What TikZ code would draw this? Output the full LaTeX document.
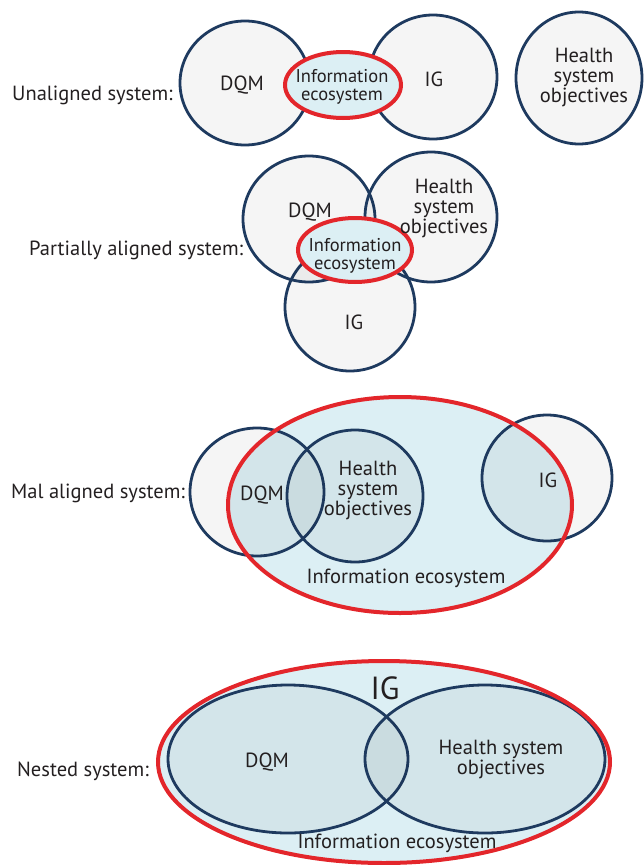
\documentclass[tikz,border=0pt]{standalone}
\usepackage{fontspec}
\setmainfont{PT Sans}
\usetikzlibrary{shapes.geometric}
\definecolor{setline}{HTML}{1E3A5F}
\definecolor{ecored}{HTML}{E3262B}
\definecolor{ecoblue}{HTML}{DCEFF4}
\definecolor{inktext}{HTML}{231F20}
\begin{document}
\begin{tikzpicture}[x=1pt, y=-1pt, text=inktext,
    font=\fontsize{20.5}{20}\selectfont,
    setdisc/.style={ellipse, draw=setline, line width=2.8pt, fill=black,
      fill opacity=0.04, text opacity=1, inner sep=0pt},
    ecodisc/.style={ellipse, draw=ecored, line width=4pt, fill=ecoblue, inner sep=0pt},
    ecofill/.style={ellipse, fill=ecoblue, inner sep=0pt},
    ecoring/.style={draw=ecored, line width=4pt},
    word/.style={align=center, inner sep=0pt},
    small/.style={word, font=\fontsize{18.5}{18}\selectfont},
    rowname/.style={anchor=west, inner sep=0pt}]
  \useasboundingbox (0,0) rectangle (643,865);

  % unaligned
  \node[rowname] (row1) at (12,95) {Unaligned system:};
  \node[setdisc, minimum width=130pt, minimum height=124pt] (dqm1) at (245,83) {};
  \node[setdisc, minimum width=128pt, minimum height=124pt] (ig1) at (433,77) {};
  \node[setdisc, minimum width=126pt, minimum height=132pt] (hso1) at (579,78) {};
  \node[ecodisc, minimum width=116pt, minimum height=66pt] (eco1) at (343,85) {};
  \node[word] (dqm1txt) at (242,85) {DQM};
  \node[word] (ig1txt) at (434,79) {IG};
  \node[word] (hso1txt) at (584,77) {Health\\system\\objectives};
  \node[small] (eco1txt) at (342,87) {Information\\ecosystem};

  % partially aligned
  \node[rowname] (row2) at (29,250) {Partially aligned system:};
  \node[setdisc, minimum width=130pt, minimum height=128pt] (ig2) at (350,307) {};
  \node[setdisc, minimum width=132pt, minimum height=126pt] (dqm2) at (309,219) {};
  \node[setdisc, minimum width=132pt, minimum height=130pt] (hso2) at (431,217) {};
  \node[ecodisc, minimum width=114pt, minimum height=64pt] (eco2) at (355,250) {};
  \node[word] (dqm2txt) at (310,212) {DQM};
  \node[word] (ig2txt) at (354,322) {IG};
  \node[word] (hso2txt) at (444,208) {Health\\system\\objectives};
  \node[small] (eco2txt) at (355,256) {Information\\ecosystem};

  % mal aligned
  \node[rowname] (row3) at (11,493) {Mal aligned system:};
  \node[ecofill, minimum width=344pt, minimum height=216pt] (eco3) at (400,505) {};
  \node[setdisc, minimum width=134pt, minimum height=128pt] (dqm3) at (257,492) {};
  \node[setdisc, minimum width=136pt, minimum height=132pt] (hso3) at (355,496) {};
  \node[setdisc, minimum width=130pt, minimum height=126pt] (ig3) at (547,478) {};
  \draw[ecoring] (eco3.center) ellipse [x radius=172pt, y radius=108pt];
  \node[word] (dqm3txt) at (262,495) {DQM};
  \node[word] (hso3txt) at (368,490) {Health\\system\\objectives};
  \node[word] (ig3txt) at (548,480) {IG};
  \node[word] (eco3txt) at (406,578) {Information ecosystem};

  % nested
  \node[rowname] (row4) at (17,771) {Nested system:};
  \node[ecofill, minimum width=452pt, minimum height=202pt] (eco4) at (384,762) {};
  \node[setdisc, minimum width=240pt, minimum height=148pt] (dqm4) at (288,759) {};
  \node[setdisc, minimum width=240pt, minimum height=148pt] (hso4) at (485,759) {};
  \draw[ecoring] (eco4.center) ellipse [x radius=226pt, y radius=101pt];
  \node[word, font=\fontsize{32}{32}\selectfont] (ig4txt) at (385,688) {IG};
  \node[word] (dqm4txt) at (267,762) {DQM};
  \node[word] (hso4txt) at (501,759) {Health system\\objectives};
  \node[word] (eco4txt) at (397,843) {Information ecosystem};
\end{tikzpicture}
\end{document}
